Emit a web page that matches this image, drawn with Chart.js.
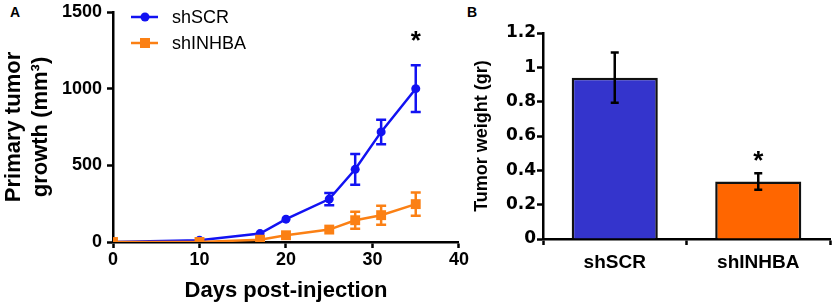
<!DOCTYPE html>
<html>
<head>
<meta charset="UTF-8">
<script src="https://cdn.jsdelivr.net/npm/chart.js@4.4.1/dist/chart.umd.min.js"></script>
<style>
  body { margin: 0; background: #fff; width: 835px; height: 306px; position: relative; overflow: hidden; font-family: "Liberation Sans", Arial, sans-serif; }
  canvas { position: absolute; top: 0; }
  #cA { left: 0; }
  #cB { left: 460px; }
  .lbl { position: absolute; font-weight: bold; font-size: 14px; }
</style>
</head>
<body>
<div class="lbl" style="left:10px;top:4px">A</div>
<div class="lbl" style="left:467px;top:4px">B</div>
<canvas id="cA" width="470" height="306"></canvas>
<canvas id="cB" width="375" height="306"></canvas>
<script>
// Panel A - tumor growth over time
const days = [0, 10, 17, 20, 25, 28, 31, 35];
const shSCR = [0, 11, 55, 149, 280, 474, 718, 1000];
const shSCRErr = [0, 0, 0, 0, 40, 100, 80, 152];
const shINHBA = [0, 0, 15, 44, 81, 142, 175, 247];
const shINHBAErr = [0, 0, 0, 0, 0, 56, 62, 76];
const sigDaysA = [35];
const xTicksA = [0, 10, 20, 30, 40];
const yTicksA = [0, 500, 1000, 1500];

// Panel B - tumor weight
const groups = ['shSCR', 'shINHBA'];
const weight = [0.94, 0.335];
const weightErr = [0.147, 0.048];
const sigGroupsB = ['shINHBA'];
const yTicksB = ['0', '0.2', '0.4', '0.6', '0.8', '1', '1.2'];

const FONT = '"Liberation Sans", Arial, sans-serif';
const BLUE = '#1212f2';
const ORANGE = '#fb8014';

function axisStyle() {
  return {
    border: { color: '#000', width: 2.5 },
    grid: { drawOnChartArea: false, drawTicks: true, tickLength: 6, tickWidth: 2.5, tickColor: '#000' }
  };
}

// error bars + significance star for the line chart
const errorBarsA = {
  id: 'errorBarsA',
  afterDatasetsDraw(chart) {
    const ctx = chart.ctx, xs = chart.scales.x, ys = chart.scales.y;
    ctx.save();
    chart.data.datasets.forEach(ds => {
      ctx.strokeStyle = ds.borderColor;
      ctx.lineWidth = 2.5;
      ds.errors.forEach((e, i) => {
        if (!e) return;
        const x = xs.getPixelForValue(days[i]);
        const y1 = ys.getPixelForValue(ds.data[i].y + e);
        const y2 = ys.getPixelForValue(ds.data[i].y - e);
        ctx.beginPath();
        ctx.moveTo(x, y1); ctx.lineTo(x, y2);
        ctx.moveTo(x - 5, y1); ctx.lineTo(x + 5, y1);
        ctx.moveTo(x - 5, y2); ctx.lineTo(x + 5, y2);
        ctx.stroke();
      });
    });
    ctx.fillStyle = '#000';
    ctx.font = 'bold 26px ' + FONT;
    ctx.textAlign = 'center';
    ctx.textBaseline = 'middle';
    sigDaysA.forEach(d => {
      const i = days.indexOf(d);
      const top = Math.max(shSCR[i] + shSCRErr[i], shINHBA[i] + shINHBAErr[i]);
      ctx.fillText('*', xs.getPixelForValue(d), ys.getPixelForValue(top) - 24);
    });
    ctx.restore();
  },
  afterDraw(chart) {
    // legend: line with marker, then label
    const ctx = chart.ctx;
    ctx.save();
    chart.data.datasets.forEach((ds, k) => {
      const y = 17 + k * 26;
      ctx.strokeStyle = ds.borderColor;
      ctx.fillStyle = ds.borderColor;
      ctx.lineWidth = 2.5;
      ctx.beginPath(); ctx.moveTo(131, y); ctx.lineTo(158, y); ctx.stroke();
      if (ds.pointStyle === 'rect') {
        ctx.fillRect(140, y - 5, 10, 10);
      } else {
        ctx.beginPath(); ctx.arc(145, y, 4.5, 0, Math.PI * 2); ctx.fill();
      }
      ctx.fillStyle = '#000';
      ctx.font = '18px ' + FONT;
      ctx.textAlign = 'left';
      ctx.textBaseline = 'middle';
      ctx.fillText(ds.label, 172, y + 1);
    });
    ctx.restore();
  }
};

const chartA = new Chart(document.getElementById('cA'), {
  type: 'line',
  data: {
    datasets: [
      {
        label: 'shSCR', order: 1,
        data: days.map((d, i) => ({ x: d, y: shSCR[i] })),
        errors: shSCRErr,
        borderColor: BLUE, backgroundColor: BLUE, borderWidth: 2.5,
        pointStyle: 'circle', pointRadius: 4.5, pointBorderWidth: 0, tension: 0
      },
      {
        label: 'shINHBA', order: 0,
        data: days.map((d, i) => ({ x: d, y: shINHBA[i] })),
        errors: shINHBAErr,
        borderColor: ORANGE, backgroundColor: ORANGE, borderWidth: 2.5,
        pointStyle: 'rect', pointRadius: 7, pointBorderWidth: 0, tension: 0
      }
    ]
  },
  options: {
    responsive: false,
    animation: false,
    layout: { padding: { top: 12, right: 11, left: 0, bottom: 0 } },
    plugins: { legend: { display: false }, tooltip: { enabled: false } },
    scales: {
      x: {
        type: 'linear', min: 0, max: 40,
        ...axisStyle(),
        afterBuildTicks: s => { s.ticks = xTicksA.map(v => ({ value: v })); },
        afterFit: s => { s.height = 64; },
        ticks: { color: '#000', padding: 1, font: { family: FONT, size: 18, weight: 'bold' }, callback: v => String(v) },
        title: { display: true, text: 'Days post-injection', color: '#000', padding: { top: 0, bottom: 2 }, font: { family: FONT, size: 22, weight: 'bold' } }
      },
      y: {
        min: 0, max: 1500,
        ...axisStyle(),
        afterBuildTicks: s => { s.ticks = yTicksA.map(v => ({ value: v })); },
        afterFit: s => { s.width = 113; s.paddingTop = 0; s.paddingBottom = 0; },
        ticks: { color: '#000', padding: 5, font: { family: FONT, size: 18, weight: 'bold' }, callback: v => String(v) },
        title: { display: true, text: ['Primary tumor', 'growth (mm\u00b3)'], color: '#000', padding: { top: 0, bottom: 0 }, font: { family: FONT, size: 22, weight: 'bold', lineHeight: 1.25 } }
      }
    }
  },
  plugins: [errorBarsA]
});

// error bars + star for the bar chart
const errorBarsB = {
  id: 'errorBarsB',
  afterDatasetsDraw(chart) {
    const ctx = chart.ctx, xs = chart.scales.x, ys = chart.scales.y;
    ctx.save();
    ctx.strokeStyle = '#000';
    ctx.lineWidth = 2.5;
    weight.forEach((v, i) => {
      const x = xs.getPixelForValue(i);
      const y1 = ys.getPixelForValue(v + weightErr[i]);
      const y2 = ys.getPixelForValue(v - weightErr[i]);
      ctx.beginPath();
      ctx.moveTo(x, y1); ctx.lineTo(x, y2);
      ctx.moveTo(x - 4, y1); ctx.lineTo(x + 4, y1);
      ctx.moveTo(x - 4, y2); ctx.lineTo(x + 4, y2);
      ctx.stroke();
    });
    ctx.fillStyle = '#000';
    ctx.font = 'bold 26px ' + FONT;
    ctx.textAlign = 'center';
    ctx.textBaseline = 'middle';
    sigGroupsB.forEach(g => {
      const i = groups.indexOf(g);
      ctx.fillText('*', xs.getPixelForValue(i), ys.getPixelForValue(weight[i] + weightErr[i]) - 11);
    });
    ctx.restore();
  }
};

const chartB = new Chart(document.getElementById('cB'), {
  type: 'bar',
  data: {
    labels: groups,
    datasets: [{
      data: weight,
      backgroundColor: ['#3434cc', '#ff6600'],
      borderColor: '#111',
      borderWidth: 2.5,
      categoryPercentage: 1,
      barPercentage: 0.6
    }]
  },
  options: {
    responsive: false,
    animation: false,
    layout: { padding: { top: 33, right: 5, left: 0, bottom: 0 } },
    plugins: { legend: { display: false }, tooltip: { enabled: false } },
    scales: {
      x: {
        ...axisStyle(),
        grid: { offset: true, drawOnChartArea: false, drawTicks: true, tickLength: 6, tickWidth: 2.5, tickColor: '#000' },
        afterFit: s => { s.height = 67; },
        ticks: { color: '#000', padding: 6, font: { family: FONT, size: 19, weight: 'bold' } }
      },
      y: {
        min: 0, max: 1.2,
        ...axisStyle(),
        afterBuildTicks: s => { s.ticks = yTicksB.map(t => ({ value: parseFloat(t) })); },
        afterFit: s => { s.width = 83; s.paddingTop = 0; s.paddingBottom = 0; },
        ticks: {
          color: '#000', padding: 1,
          font: { family: '"DejaVu Sans", Verdana, sans-serif', size: 17, weight: 'bold' },
          callback: (v, i) => yTicksB[i]
        },
        title: { display: true, text: 'Tumor weight (gr)', color: '#000', padding: { top: 11, bottom: 0 }, font: { family: FONT, size: 18, weight: 'bold' } }
      }
    }
  },
  plugins: [errorBarsB]
});
</script>
</body>
</html>
